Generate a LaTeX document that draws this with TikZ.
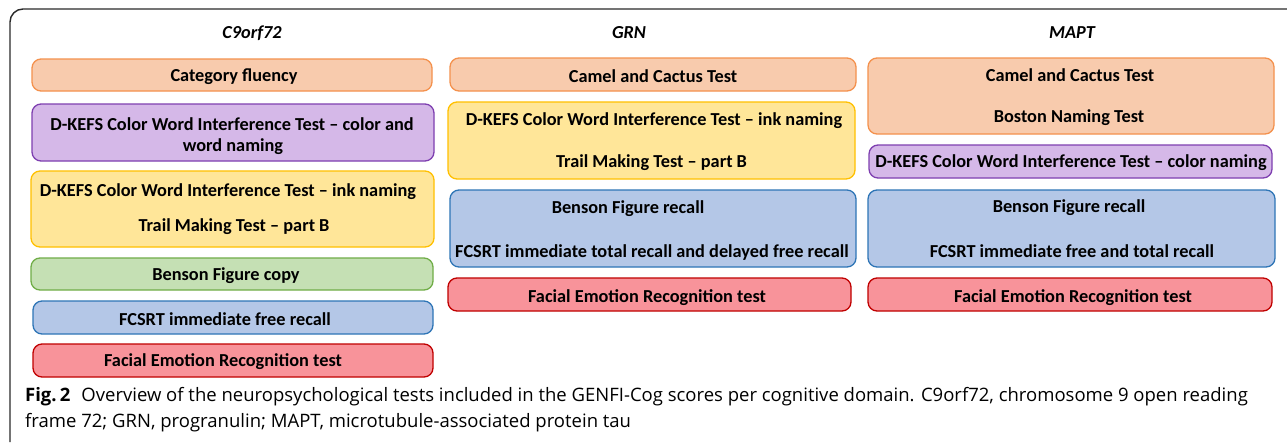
\documentclass[tikz,border=0pt]{standalone}
\usepackage{fontspec}
\setmainfont{Carlito}
\newfontfamily\capfont{Open Sans}
\definecolor{orF}{HTML}{F8CBAD}\definecolor{orD}{HTML}{F4914D}
\definecolor{puF}{HTML}{D5B8E8}\definecolor{puD}{HTML}{7E3FB0}
\definecolor{yeF}{HTML}{FFE699}\definecolor{yeD}{HTML}{FFC000}
\definecolor{grF}{HTML}{C5E0B4}\definecolor{grD}{HTML}{70AD47}
\definecolor{blF}{HTML}{B4C7E7}\definecolor{blD}{HTML}{2E75B6}
\definecolor{reF}{HTML}{F8939A}\definecolor{reD}{HTML}{C00000}
\definecolor{frameC}{HTML}{2A2A2A}
\tikzset{
  tbox/.style={draw, line width=1.3pt, rounded corners=9pt, inner sep=0pt, anchor=center},
  orbox/.style={tbox, fill=orF, draw=orD},
  pubox/.style={tbox, fill=puF, draw=puD},
  yebox/.style={tbox, fill=yeF, draw=yeD},
  grbox/.style={tbox, fill=grF, draw=grD},
  blbox/.style={tbox, fill=blF, draw=blD},
  rebox/.style={tbox, fill=reF, draw=reD},
  lab/.style={font=\fontsize{18.3}{20}\selectfont\bfseries, inner sep=0pt, anchor=center, yshift=-1.5pt},
  head/.style={font=\fontsize{18.3}{20}\selectfont\bfseries\itshape, inner sep=0pt, anchor=center, yshift=-1pt},
  captxt/.style={font=\capfont\fontsize{18.5}{21}\selectfont, inner sep=0pt, anchor=west},
}
\begin{document}
\begin{tikzpicture}[x=1pt,y=-1pt]
\useasboundingbox[fill=white] (0,0) rectangle (1287,442);
\coordinate (fb) at (10,442);
\coordinate (fc) at (10,9);
\coordinate (fr) at (1287,9);
\draw[frameC, line width=1.4pt, rounded corners=13pt] (fb) -- (fc) -- (fr);

% headers
\node[head] (h1) at (252,32) {C9orf72};
\node[head] (h2) at (629,32) {GRN};
\node[head] (h3) at (1072,32) {MAPT};

% column 1
\node[orbox, minimum width=400pt, minimum height=32pt] (a1) at (232,75) {};
\node[lab] (a1t) at (234,75) {Category fluency};
\node[pubox, minimum width=402pt, minimum height=57pt] (a2) at (233,132.5) {};
\node[lab] (a2t) at (232,123) {D-KEFS Color Word Interference Test – color and};
\node[lab] (a2u) at (233,145) {word naming};
\node[yebox, minimum width=403pt, minimum height=76pt] (a3) at (232.5,209) {};
\node[lab] (a3t) at (228,190) {D-KEFS Color Word Interference Test – ink naming};
\node[lab] (a3u) at (234,225) {Trail Making Test – part B};
\node[grbox, minimum width=402pt, minimum height=32pt] (a4) at (232,274) {};
\node[lab] (a4t) at (226,274.5) {Benson Figure copy};
\node[blbox, minimum width=400pt, minimum height=33pt] (a5) at (233,317.5) {};
\node[lab] (a5t) at (225,318) {FCSRT immediate free recall};
\node[rebox, minimum width=400pt, minimum height=33pt] (a6) at (233,360.5) {};
\node[lab] (a6t) at (223,360) {Facial Emotion Recognition test};

% column 2
\node[orbox, minimum width=406pt, minimum height=33pt] (b1) at (653,74.5) {};
\node[lab] (b1t) at (653,75) {Camel and Cactus Test};
\node[yebox, minimum width=407pt, minimum height=77pt] (b2) at (651.5,140.5) {};
\node[lab] (b2t) at (654,119) {D-KEFS Color Word Interference Test – ink naming};
\node[lab] (b2u) at (651.5,161) {Trail Making Test – part B};
\node[blbox, minimum width=406pt, minimum height=77pt] (b3) at (653,228.5) {};
\node[lab] (b3t) at (628,207) {Benson Figure recall};
\node[lab] (b3u) at (652,251) {FCSRT immediate total recall and delayed free recall};
\node[rebox, minimum width=403pt, minimum height=33pt] (b4) at (649.5,294.5) {};
\node[lab] (b4t) at (647,296) {Facial Emotion Recognition test};

% column 3
\node[orbox, minimum width=406pt, minimum height=76pt] (c1) at (1071,96) {};
\node[lab] (c1t) at (1070,74) {Camel and Cactus Test};
\node[lab] (c1u) at (1069,116) {Boston Naming Test};
\node[pubox, minimum width=403pt, minimum height=33pt] (c2) at (1070.5,161.5) {};
\node[lab] (c2t) at (1071,161) {D-KEFS Color Word Interference Test – color naming};
\node[blbox, minimum width=407pt, minimum height=77pt] (c3) at (1071.5,228.5) {};
\node[lab] (c3t) at (1069,206) {Benson Figure recall};
\node[lab] (c3u) at (1072,250) {FCSRT immediate free and total recall};
\node[rebox, minimum width=404pt, minimum height=33pt] (c4) at (1070,294.5) {};
\node[lab] (c4t) at (1073,296) {Facial Emotion Recognition test};

% caption
\node[captxt] (cap1) at (25,397) {\textbf{Fig.\,2}\hspace{0.6em}Overview of the neuropsychological tests included in the GENFI-Cog scores per cognitive domain. C9orf72, chromosome 9 open reading};
\node[captxt] (cap2) at (25,423) {frame 72; GRN, progranulin; MAPT, microtubule-associated protein tau};
\end{tikzpicture}
\end{document}
